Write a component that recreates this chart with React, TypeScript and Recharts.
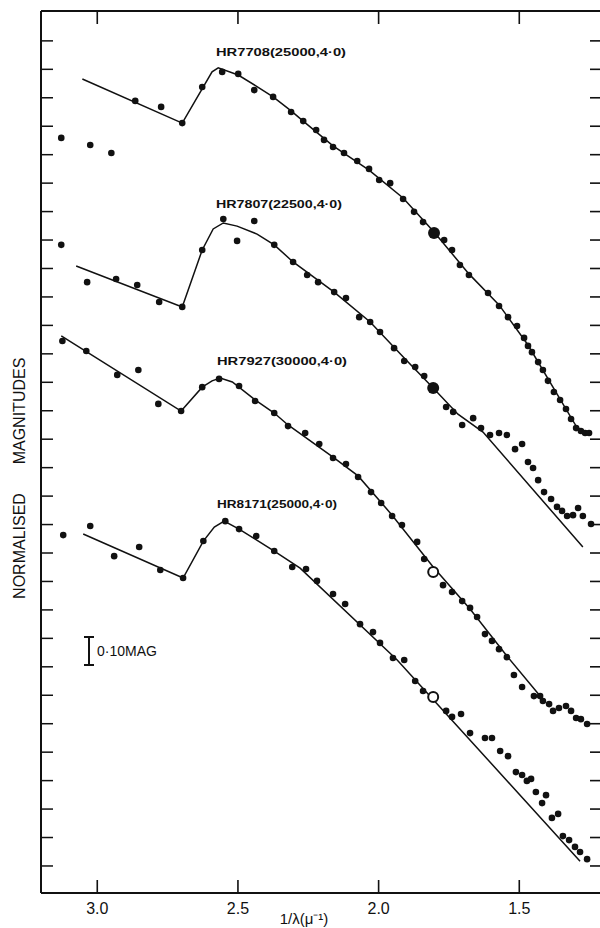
import { ComposedChart, Line, Scatter, XAxis, YAxis } from "recharts";

const xTicks = [3.0, 2.5, 2.0, 1.5];
const yTicks = [
  0.1, 0.2, 0.3, 0.4, 0.5, 0.6, 0.7, 0.8, 0.9, 1.0, 1.1, 1.2, 1.3, 1.4, 1.5,
  1.6, 1.7, 1.8, 1.9, 2.0, 2.1, 2.2, 2.3, 2.4, 2.5, 2.6, 2.7, 2.8, 2.9, 3.0,
];

// HR7708 (25000, 4.0)
const hr7708Obs = [
  { x: 3.128, y: 0.441 }, { x: 3.025, y: 0.466 }, { x: 2.95, y: 0.494 },
  { x: 2.865, y: 0.311 }, { x: 2.773, y: 0.332 }, { x: 2.698, y: 0.389 },
  { x: 2.627, y: 0.262 }, { x: 2.556, y: 0.209 }, { x: 2.499, y: 0.216 },
  { x: 2.442, y: 0.273 }, { x: 2.375, y: 0.297 }, { x: 2.311, y: 0.35 },
  { x: 2.268, y: 0.382 }, { x: 2.222, y: 0.413 }, { x: 2.194, y: 0.448 },
  { x: 2.162, y: 0.473 }, { x: 2.123, y: 0.494 }, { x: 2.076, y: 0.522 },
  { x: 2.034, y: 0.55 }, { x: 1.998, y: 0.589 }, { x: 1.959, y: 0.6 },
  { x: 1.913, y: 0.656 }, { x: 1.874, y: 0.701 }, { x: 1.842, y: 0.737 },
  { x: 1.767, y: 0.8 }, { x: 1.739, y: 0.835 }, { x: 1.711, y: 0.888 },
  { x: 1.679, y: 0.923 }, { x: 1.611, y: 0.986 }, { x: 1.572, y: 1.032 },
  { x: 1.54, y: 1.071 }, { x: 1.508, y: 1.102 }, { x: 1.483, y: 1.144 },
  { x: 1.469, y: 1.172 }, { x: 1.455, y: 1.194 }, { x: 1.433, y: 1.229 },
  { x: 1.416, y: 1.257 }, { x: 1.398, y: 1.295 }, { x: 1.377, y: 1.334 },
  { x: 1.355, y: 1.362 }, { x: 1.334, y: 1.394 }, { x: 1.316, y: 1.429 },
  { x: 1.298, y: 1.461 }, { x: 1.281, y: 1.471 }, { x: 1.266, y: 1.478 },
  { x: 1.252, y: 1.478 },
];
const hr7708Big = [{ x: 1.803, y: 0.775 }];
const hr7708Model = [
  { x: 3.053, y: 0.234 }, { x: 2.698, y: 0.389 }, { x: 2.592, y: 0.209 },
  { x: 2.57, y: 0.195 }, { x: 2.499, y: 0.22 }, { x: 2.435, y: 0.259 },
  { x: 2.375, y: 0.297 }, { x: 2.311, y: 0.346 }, { x: 2.268, y: 0.382 },
  { x: 2.162, y: 0.469 }, { x: 2.034, y: 0.554 }, { x: 1.913, y: 0.652 },
  { x: 1.803, y: 0.772 }, { x: 1.679, y: 0.919 }, { x: 1.572, y: 1.028 },
  { x: 1.469, y: 1.169 }, { x: 1.355, y: 1.359 }, { x: 1.298, y: 1.454 },
  { x: 1.277, y: 1.471 }, { x: 1.245, y: 1.478 },
];

// HR7807 (22500, 4.0)
const hr7807Obs = [
  { x: 3.128, y: 0.817 }, { x: 3.036, y: 0.948 }, { x: 2.933, y: 0.937 },
  { x: 2.858, y: 0.958 }, { x: 2.78, y: 1.018 }, { x: 2.698, y: 1.035 },
  { x: 2.627, y: 0.835 }, { x: 2.552, y: 0.726 }, { x: 2.503, y: 0.803 },
  { x: 2.442, y: 0.733 }, { x: 2.371, y: 0.817 }, { x: 2.304, y: 0.877 },
  { x: 2.254, y: 0.923 }, { x: 2.215, y: 0.948 }, { x: 2.158, y: 0.983 },
  { x: 2.116, y: 1.004 }, { x: 2.069, y: 1.071 }, { x: 2.03, y: 1.088 },
  { x: 1.995, y: 1.123 }, { x: 1.945, y: 1.18 }, { x: 1.909, y: 1.225 },
  { x: 1.87, y: 1.246 }, { x: 1.838, y: 1.278 }, { x: 1.76, y: 1.387 },
  { x: 1.735, y: 1.404 }, { x: 1.703, y: 1.45 }, { x: 1.664, y: 1.426 },
  { x: 1.636, y: 1.461 }, { x: 1.604, y: 1.485 }, { x: 1.572, y: 1.478 },
  { x: 1.544, y: 1.485 }, { x: 1.515, y: 1.535 }, { x: 1.49, y: 1.517 },
  { x: 1.469, y: 1.58 }, { x: 1.451, y: 1.601 }, { x: 1.433, y: 1.644 },
  { x: 1.412, y: 1.686 }, { x: 1.387, y: 1.71 }, { x: 1.366, y: 1.738 },
  { x: 1.348, y: 1.752 }, { x: 1.33, y: 1.77 }, { x: 1.309, y: 1.767 },
  { x: 1.291, y: 1.742 }, { x: 1.274, y: 1.77 }, { x: 1.245, y: 1.798 },
];
const hr7807Big = [{ x: 1.806, y: 1.32 }];
const hr7807Model = [
  { x: 3.075, y: 0.891 }, { x: 2.698, y: 1.035 }, { x: 2.627, y: 0.835 },
  { x: 2.588, y: 0.761 }, { x: 2.552, y: 0.74 }, { x: 2.503, y: 0.751 },
  { x: 2.432, y: 0.779 }, { x: 2.371, y: 0.817 }, { x: 2.304, y: 0.877 },
  { x: 2.158, y: 0.983 }, { x: 2.03, y: 1.088 }, { x: 1.909, y: 1.215 },
  { x: 1.806, y: 1.32 }, { x: 1.718, y: 1.412 }, { x: 1.629, y: 1.475 },
  { x: 1.274, y: 1.879 },
];

// HR7927 (30000, 4.0)
const hr7927Obs = [
  { x: 3.124, y: 1.155 }, { x: 3.039, y: 1.19 }, { x: 2.929, y: 1.274 },
  { x: 2.854, y: 1.257 }, { x: 2.783, y: 1.376 }, { x: 2.702, y: 1.401 },
  { x: 2.627, y: 1.317 }, { x: 2.567, y: 1.288 }, { x: 2.496, y: 1.313 },
  { x: 2.439, y: 1.366 }, { x: 2.371, y: 1.408 }, { x: 2.322, y: 1.454 },
  { x: 2.261, y: 1.478 }, { x: 2.211, y: 1.517 }, { x: 2.162, y: 1.566 },
  { x: 2.116, y: 1.587 }, { x: 2.073, y: 1.633 }, { x: 2.027, y: 1.686 },
  { x: 1.991, y: 1.724 }, { x: 1.952, y: 1.77 }, { x: 1.917, y: 1.802 },
  { x: 1.863, y: 1.861 }, { x: 1.838, y: 1.921 }, { x: 1.771, y: 2.013 },
  { x: 1.739, y: 2.037 }, { x: 1.703, y: 2.069 }, { x: 1.675, y: 2.093 },
  { x: 1.65, y: 2.125 }, { x: 1.622, y: 2.185 }, { x: 1.597, y: 2.209 },
  { x: 1.572, y: 2.238 }, { x: 1.544, y: 2.266 }, { x: 1.519, y: 2.329 },
  { x: 1.49, y: 2.371 }, { x: 1.448, y: 2.403 }, { x: 1.426, y: 2.403 },
  { x: 1.416, y: 2.42 }, { x: 1.394, y: 2.431 }, { x: 1.38, y: 2.455 },
  { x: 1.359, y: 2.445 }, { x: 1.334, y: 2.438 }, { x: 1.316, y: 2.455 },
  { x: 1.298, y: 2.48 }, { x: 1.281, y: 2.484 }, { x: 1.259, y: 2.501 },
];
const hr7927Big = [{ x: 1.806, y: 1.967 }];
const hr7927Model = [
  { x: 3.128, y: 1.137 }, { x: 2.702, y: 1.401 }, { x: 2.627, y: 1.317 },
  { x: 2.592, y: 1.295 }, { x: 2.563, y: 1.285 }, { x: 2.52, y: 1.299 },
  { x: 2.439, y: 1.362 }, { x: 2.371, y: 1.408 }, { x: 2.322, y: 1.45 },
  { x: 2.162, y: 1.563 }, { x: 2.073, y: 1.629 }, { x: 1.952, y: 1.767 },
  { x: 1.806, y: 1.949 }, { x: 1.675, y: 2.097 }, { x: 1.544, y: 2.262 },
  { x: 1.423, y: 2.406 },
];

// HR8171 (25000, 4.0)
const hr8171Obs = [
  { x: 3.121, y: 1.837 }, { x: 3.025, y: 1.805 }, { x: 2.94, y: 1.911 },
  { x: 2.851, y: 1.879 }, { x: 2.776, y: 1.96 }, { x: 2.695, y: 1.988 },
  { x: 2.623, y: 1.858 }, { x: 2.545, y: 1.788 }, { x: 2.496, y: 1.816 },
  { x: 2.435, y: 1.84 }, { x: 2.371, y: 1.893 }, { x: 2.307, y: 1.949 },
  { x: 2.258, y: 1.956 }, { x: 2.219, y: 1.998 }, { x: 2.162, y: 2.044 },
  { x: 2.119, y: 2.079 }, { x: 2.066, y: 2.15 }, { x: 2.02, y: 2.178 },
  { x: 1.995, y: 2.216 }, { x: 1.949, y: 2.269 }, { x: 1.909, y: 2.276 },
  { x: 1.87, y: 2.35 }, { x: 1.842, y: 2.385 }, { x: 1.76, y: 2.455 },
  { x: 1.739, y: 2.476 }, { x: 1.707, y: 2.466 }, { x: 1.675, y: 2.533 },
  { x: 1.622, y: 2.55 }, { x: 1.597, y: 2.55 }, { x: 1.568, y: 2.596 },
  { x: 1.54, y: 2.614 }, { x: 1.512, y: 2.67 }, { x: 1.49, y: 2.68 },
  { x: 1.473, y: 2.701 }, { x: 1.458, y: 2.694 }, { x: 1.441, y: 2.74 },
  { x: 1.405, y: 2.751 }, { x: 1.419, y: 2.779 }, { x: 1.384, y: 2.831 },
  { x: 1.362, y: 2.817 }, { x: 1.345, y: 2.895 }, { x: 1.323, y: 2.909 },
  { x: 1.302, y: 2.933 }, { x: 1.284, y: 2.951 }, { x: 1.259, y: 2.976 },
];
const hr8171Big = [{ x: 1.806, y: 2.406 }];
const hr8171Model = [
  { x: 3.05, y: 1.833 }, { x: 2.695, y: 1.988 }, { x: 2.623, y: 1.858 },
  { x: 2.584, y: 1.809 }, { x: 2.549, y: 1.788 }, { x: 2.496, y: 1.816 },
  { x: 2.371, y: 1.893 }, { x: 2.279, y: 1.953 }, { x: 1.934, y: 2.276 },
  { x: 1.284, y: 2.983 },
];

const starLabels = [
  { text: "HR7708(25000,4·0)", x: 216, y: 56, w: 130 },
  { text: "HR7807(22500,4·0)", x: 216, y: 208, w: 126 },
  { text: "HR7927(30000,4·0)", x: 217, y: 365, w: 130 },
  { text: "HR8171(25000,4·0)", x: 217, y: 508, w: 120 },
];

const INK = "#111";
const FONT = "'Liberation Sans', Arial, sans-serif";

// axis ranges (x runs right to left, magnitudes grow downward)
const X_DOMAIN = [1.206, 3.2];
const Y_DOMAIN = [-0.005, 3.095];

// chart box
const W = 610;
const H = 928;
const M = { top: 11, left: 41, right: 8, bottom: 35 };
const PLOT = { x0: M.left, x1: W - M.right, y0: M.top, y1: H - M.bottom };

// same mapping as the chart axes, for the frame ticks drawn on the overlay
const sx = (v: number) =>
  PLOT.x0 + ((X_DOMAIN[1] - v) / (X_DOMAIN[1] - X_DOMAIN[0])) * (PLOT.x1 - PLOT.x0);
const sy = (v: number) =>
  PLOT.y0 + ((v - Y_DOMAIN[0]) / (Y_DOMAIN[1] - Y_DOMAIN[0])) * (PLOT.y1 - PLOT.y0);

const smallDot = (p: any) => <circle cx={p.cx} cy={p.cy} r={3.3} fill={INK} />;
const bigDot = (p: any) => <circle cx={p.cx} cy={p.cy} r={6} fill={INK} />;
const ringDot = (p: any) => (
  <circle cx={p.cx} cy={p.cy} r={5} fill="#fff" stroke={INK} strokeWidth={2} />
);

// left axis is mirrored with tickMargin 0, so p.x/p.y is the inner end of the tick
const LeftMark = (p: any) => (
  <line x1={p.x} y1={p.y} x2={p.x - 12} y2={p.y} stroke={INK} strokeWidth={1.5} />
);
const BottomLabel = (p: any) => (
  <text
    x={p.x}
    y={p.y + 34}
    textAnchor="middle"
    fontSize={16}
    fontFamily={FONT}
    fill={INK}
  >
    {Number(p.payload.value).toFixed(1)}
  </text>
);

const series = [
  { obs: hr7708Obs, big: hr7708Big, model: hr7708Model, ring: false },
  { obs: hr7807Obs, big: hr7807Big, model: hr7807Model, ring: false },
  { obs: hr7927Obs, big: hr7927Big, model: hr7927Model, ring: true },
  { obs: hr8171Obs, big: hr8171Big, model: hr8171Model, ring: true },
];

const axisLine = { stroke: INK, strokeWidth: 2 };

export default function App() {
  return (
    <div
      style={{
        position: "absolute",
        left: 0,
        top: 0,
        width: 600,
        height: 928,
        overflow: "hidden",
        background: "#fff",
      }}
    >
      <ComposedChart width={W} height={H} margin={M}>
        <XAxis
          xAxisId="b"
          type="number"
          dataKey="x"
          domain={X_DOMAIN}
          allowDataOverflow
          reversed
          ticks={xTicks}
          height={1}
          mirror
          tickSize={13}
          tickMargin={0}
          axisLine={axisLine}
          tickLine={false}
          tick={BottomLabel}
        />
        <XAxis
          xAxisId="t"
          orientation="top"
          type="number"
          dataKey="x"
          domain={X_DOMAIN}
          allowDataOverflow
          reversed
          height={1}
          mirror
          axisLine={axisLine}
          tickLine={false}
          tick={false}
        />
        <YAxis
          yAxisId="l"
          type="number"
          dataKey="y"
          domain={Y_DOMAIN}
          allowDataOverflow
          reversed
          ticks={yTicks}
          width={1}
          mirror
          tickSize={12}
          tickMargin={0}
          axisLine={axisLine}
          tickLine={false}
          tick={LeftMark}
        />
        {series.map((s, i) => (
          <Line
            key={"m" + i}
            xAxisId="b"
            yAxisId="l"
            data={s.model}
            dataKey="y"
            type="linear"
            stroke={INK}
            strokeWidth={1.5}
            dot={false}
            activeDot={false}
            isAnimationActive={false}
          />
        ))}
        {series.map((s, i) => (
          <Scatter
            key={"o" + i}
            xAxisId="b"
            yAxisId="l"
            data={s.obs}
            dataKey="y"
            shape={smallDot}
            isAnimationActive={false}
          />
        ))}
        {series.map((s, i) => (
          <Scatter
            key={"b" + i}
            xAxisId="b"
            yAxisId="l"
            data={s.big}
            dataKey="y"
            shape={s.ring ? ringDot : bigDot}
            isAnimationActive={false}
          />
        ))}
      </ComposedChart>
      <svg
        width={W}
        height={H}
        style={{ position: "absolute", left: 0, top: 0, pointerEvents: "none" }}
        fontFamily={FONT}
        fill={INK}
      >
        {/* inward frame ticks on the top, bottom and right edges */}
        <g fill={INK}>
          {xTicks.map((v) => (
            <rect key={"t" + v} x={sx(v) - 0.8} y={PLOT.y0} width={1.6} height={13} />
          ))}
          {xTicks.map((v) => (
            <rect key={"b" + v} x={sx(v) - 0.8} y={PLOT.y1 - 13} width={1.6} height={13} />
          ))}
          {yTicks.map((v) => (
            <rect key={"r" + v} x={PLOT.x1 - 12} y={sy(v) - 0.8} width={12} height={1.6} />
          ))}
        </g>
        {starLabels.map((l) => (
          <text
            key={l.text}
            x={l.x}
            y={l.y}
            fontSize={11}
            fontWeight="bold"
            textLength={l.w}
            lengthAdjust="spacingAndGlyphs"
          >
            {l.text}
          </text>
        ))}
        <g transform="translate(25,411) rotate(-90)">
          <text textAnchor="middle" fontSize={16}>MAGNITUDES</text>
        </g>
        <g transform="translate(25,546) rotate(-90)">
          <text textAnchor="middle" fontSize={16}>NORMALISED</text>
        </g>
        <text x={304} y={924} textAnchor="middle" fontSize={15}>
          1/λ(μ⁻¹)
        </text>
        <g stroke={INK} strokeWidth={2}>
          <line x1={89} y1={637} x2={89} y2={665} />
          <line x1={84} y1={637} x2={94} y2={637} />
          <line x1={84} y1={665} x2={94} y2={665} />
        </g>
        <text x={97} y={656} fontSize={14}>
          0·10MAG
        </text>
      </svg>
    </div>
  );
}
